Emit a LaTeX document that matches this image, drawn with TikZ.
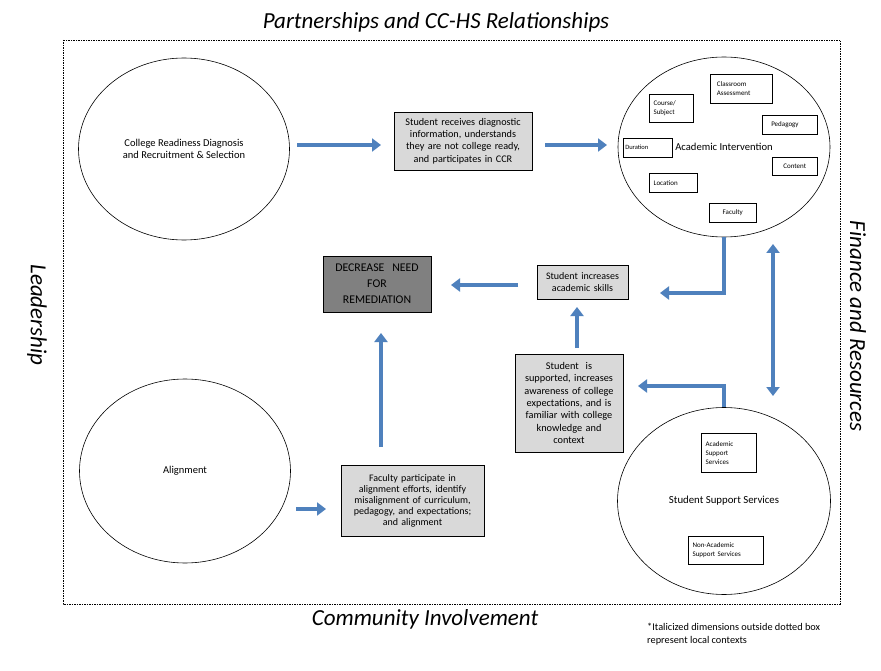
\documentclass[tikz,border=0pt]{standalone}
\usepackage{fontspec}
\setmainfont{Carlito}
\usetikzlibrary{shapes.geometric,arrows.meta,calc}
\definecolor{arrblue}{RGB}{79,129,189}
\definecolor{boxgray}{RGB}{217,217,217}
\definecolor{midgray}{RGB}{128,128,128}
\begin{document}
\begin{tikzpicture}[x=1pt,y=-1pt,
  oval/.style={draw, ellipse, line width=0.6pt, inner sep=0pt, align=center, font=\fontsize{10.5}{12}\selectfont},
  gbox/.style={draw, line width=0.6pt, fill=boxgray, align=center, inner sep=1pt, font=\fontsize{10}{12.3}\selectfont},
  ibox/.style={draw, line width=0.5pt, fill=white, align=left, inner sep=2pt, font=\fontsize{7}{9}\selectfont, anchor=north west},
  arr/.style={draw=arrblue, line width=3.3pt, -{Triangle[width=13pt,length=9pt]}},
  darr/.style={draw=arrblue, line width=3.3pt, {Triangle[width=13pt,length=9pt]}-{Triangle[width=13pt,length=9pt]}},
  dimlabel/.style={font=\fontsize{23}{27}\selectfont\itshape}
]
\useasboundingbox (0,0) rectangle (881,671);
\fill[white] (0,0) rectangle (881,671);

% dotted frame
\draw[line width=0.5pt, dash pattern=on 1.5pt off 1pt] (63,40) rectangle (840,604);

% outside dimensions
\node[dimlabel] (partner) at (436,22) {Partnerships and CC-HS Relationships};
\node[dimlabel] (commun) at (425,619) {Community Involvement};
\node[dimlabel, rotate=-90] (leader) at (37,315) {Leadership};
\node[dimlabel, rotate=-90] (finance) at (858,326) {Finance and Resources};
\node[anchor=north west, align=left, inner sep=0pt, font=\fontsize{10.3}{13}\selectfont] (note) at (647,623)
  {*Italicized dimensions outside dotted box\\represent local contexts};

% ellipses
\node[oval, minimum width=211, minimum height=182] (crd) at (184,149)
  {College Readiness Diagnosis\\and Recruitment \& Selection};
\node[oval, minimum width=212, minimum height=180] (ai) at (724,147)
  {\fontsize{10.6}{12}\selectfont Academic Intervention};
\node[oval, minimum width=211, minimum height=184] (al) at (185,471) {Alignment};
\node[oval, minimum width=213, minimum height=187] (sss) at (724,501)
  {\fontsize{10.8}{12}\selectfont Student Support Services};

% academic intervention sub-boxes
\node[ibox, minimum width=62, minimum height=29, text width=58] (ca) at (710,74) {\ \ Classroom\\\ \ Assessment};
\node[ibox, minimum width=44, minimum height=28, text width=40] (cs) at (649,94) {\ Course/\\\ Subject};
\node[ibox, minimum width=55, minimum height=19, text width=51] (ped) at (762,115) {\ \ \ Pedagogy};
\node[ibox, minimum width=49, minimum height=19, text width=45] (dur) at (623,138) {\fontsize{6.5}{8}\selectfont Duration};
\node[ibox, minimum width=45, minimum height=18, text width=41] (con) at (772,157) {\hfill Content\hfill\null};
\node[ibox, minimum width=48, minimum height=19, text width=44] (loc) at (649,173) {\ Location};
\node[ibox, minimum width=47, minimum height=19, text width=43] (fac) at (709,203) {\hfill Faculty\hfill\null};

% student support sub-boxes
\node[ibox, minimum width=55, minimum height=39, text width=51] (ass) at (701,433) {\ Academic\\\ Support\\\ Services};
\node[ibox, minimum width=75, minimum height=28, text width=71] (nass) at (688,536) {\ Non-Academic\\\ Support Services};

% grey boxes
\node[gbox, minimum width=138, minimum height=58, text width=136,
  font=\fontsize{10.2}{12.3}\selectfont] (recv) at (463,141)
  {Student receives diagnostic\\information, understands\\they are not college ready,\\and participates in CCR};
\node[gbox, fill=midgray, minimum width=108, minimum height=56, text width=106,
  font=\fontsize{11.8}{16}\selectfont] (dec) at (377,284)
  {DECREASE\ \ NEED\\FOR\\REMEDIATION};
\node[gbox, minimum width=91, minimum height=34, text width=89] (inc) at (582.5,282)
  {Student increases\\academic skills};
\node[gbox, minimum width=108, minimum height=98, text width=106,
  font=\fontsize{10.3}{12.3}\selectfont] (sup) at (569,403)
  {Student\ \ is\\supported, increases\\awareness of college\\expectations, and is\\familiar with college\\knowledge and\\context};
\node[gbox, minimum width=143, minimum height=71, text width=141,
  font=\fontsize{10}{11}\selectfont] (facp) at (412.5,500.5)
  {Faculty participate in\\alignment efforts, identify\\misalignment of curriculum,\\pedagogy, and expectations;\\and alignment};

% arrow end coordinates
\coordinate (a1s) at (297,145);
\coordinate (a1e) at (381,145);
\coordinate (a2s) at (545,145);
\coordinate (a2e) at (607,145);
\coordinate (e1) at (660,293);
\coordinate (e2) at (638,386);
\coordinate (d1) at (773,244);
\coordinate (d2) at (773,396);
\coordinate (l1s) at (518,285);
\coordinate (l1e) at (451,285);
\coordinate (u1s) at (577,348);
\coordinate (u1e) at (577,307);
\coordinate (u2s) at (381,447);
\coordinate (u2e) at (381,333);
\coordinate (r3s) at (296,509);
\coordinate (r3e) at (326,509);

% arrows
\draw[arr] (a1s) -- (a1e);
\draw[arr] (a2s) -- (a2e);
\draw[arr] (ai.south) |- (e1);
\draw[arr] (sss.north) |- (e2);
\draw[darr] (d1) -- (d2);
\draw[arr] (l1s) -- (l1e);
\draw[arr] (u1s) -- (u1e);
\draw[arr] (u2s) -- (u2e);
\draw[arr] (r3s) -- (r3e);
\end{tikzpicture}
\end{document}
